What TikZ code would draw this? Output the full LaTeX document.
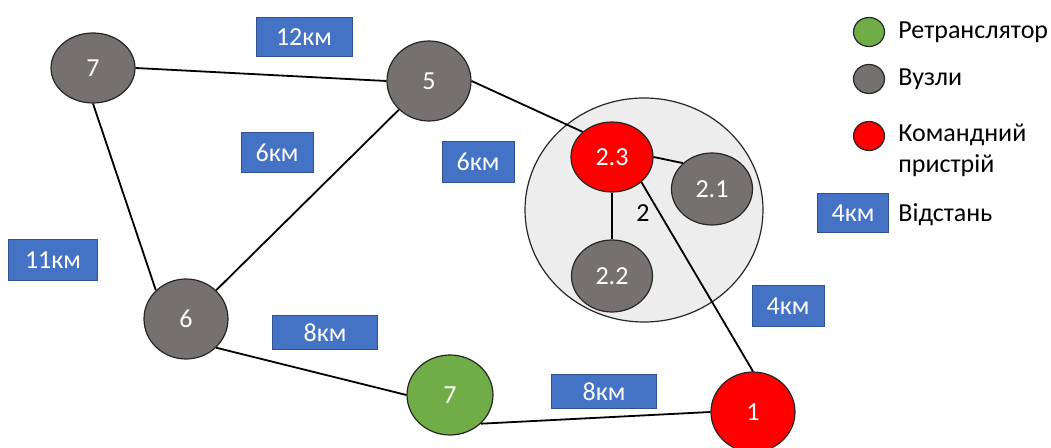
\documentclass[tikz,border=0pt]{standalone}
\usepackage{fontspec}
\setmainfont{Carlito}
\usetikzlibrary{shapes.geometric}
\definecolor{nodegrey}{HTML}{767171}
\definecolor{relaygreen}{HTML}{70AD47}
\definecolor{cmdred}{HTML}{FF0000}
\definecolor{distblue}{HTML}{4472C4}
\definecolor{distedge}{HTML}{2F528F}
\definecolor{groupfill}{HTML}{EDEDED}

\begin{document}
\begin{tikzpicture}[
    x=0.5pt, y=-0.5pt,
    lbl/.style={font=\fontsize{13}{15.5}\selectfont},
    vuzol/.style={ellipse, draw=black!85, line width=0.6pt, fill=nodegrey, text=white, minimum width=42pt, minimum height=40pt, inner sep=0pt, lbl},
    retr/.style={vuzol, fill=relaygreen},
    komand/.style={vuzol, fill=cmdred},
    grupa/.style={ellipse, draw=black!85, line width=0.6pt, fill=groupfill, minimum width=119pt, minimum height=112pt},
    dist/.style={rectangle, draw=distedge, line width=0.5pt, fill=distblue, text=white, minimum width=36pt, minimum height=20pt, inner sep=0pt, lbl},
    link/.style={line width=0.9pt},
    legdot/.style={ellipse, draw=black!85, line width=0.6pt, minimum width=15.5pt, minimum height=14.5pt, inner sep=0pt},
    legtext/.style={anchor=base west, inner sep=0pt, align=left, lbl}
]
\useasboundingbox (0,0) rectangle (1051,448);

% group of nodes around 2
\node[grupa] (grp) at (644,210) {};

% nodes
\node[vuzol, minimum height=35pt] (a7) at (93,68) {7};
\node[vuzol] (n5) at (429,81) {5};
\node[vuzol] (n6) at (186,319) {6};
\node[retr, minimum width=43pt] (r7) at (450,395) {7};
\node[komand] (k1) at (753,412) {1};
\node[komand, minimum width=41pt, minimum height=35pt] (n23) at (612,157) {2.3};
\node[vuzol, minimum width=40.5pt, minimum height=36pt] (n21) at (712,189) {2.1};
\node[vuzol, minimum width=40.5pt, minimum height=36pt] (n22) at (612,276) {2.2};
\node[lbl] (g2) at (643,213) {2};

% links
\draw[link] (a7.east) -- (n5.west);
\draw[link] (a7.south) -- (n6.north west);
\draw[link] (n5.south west) -- (n6.north east);
\draw[link] (n5.east) -- (n23.north west);
\draw[link] (n6.south east) -- (r7.west);
\draw[link] (r7.south east) -- (k1.west);
\draw[link] (n23.south east) -- (k1.north);
\draw[link] (n23.east) -- (n21.north west);
\draw[link] (n23.south) -- (n22.north);

% distances
\node[dist, minimum width=48pt, minimum height=19.5pt] (d12) at (304,37) {12км};
\node[dist] (d6a) at (277,153) {6км};
\node[dist, minimum height=20.5pt] (d6b) at (478,162) {6км};
\node[dist, minimum width=44.5pt, minimum height=20.5pt] (d11) at (53,260) {11км};
\node[dist, minimum width=52.5pt, minimum height=17pt] (d8a) at (325,333) {8км};
\node[dist, minimum width=52.5pt, minimum height=17pt] (d8b) at (604,392) {8км};
\node[dist, minimum height=20.5pt] (d4) at (788,306) {4км};

% legend
\node[legdot, fill=relaygreen] (legG) at (869,32) {};
\node[legdot, fill=nodegrey] (legV) at (869,79) {};
\node[legdot, fill=cmdred] (legK) at (869,136) {};
\node[dist, minimum width=35.5pt, minimum height=19.5pt] (legD) at (853,213) {4км};
\node[legtext] (txtG) at (898,39) {Ретранслятор};
\node[legtext] (txtV) at (898,86) {Вузли};
\node[legtext] (txtK) at (898,173) {Командний\\пристрій};
\node[legtext] (txtD) at (898,222) {Відстань};
\end{tikzpicture}
\end{document}
